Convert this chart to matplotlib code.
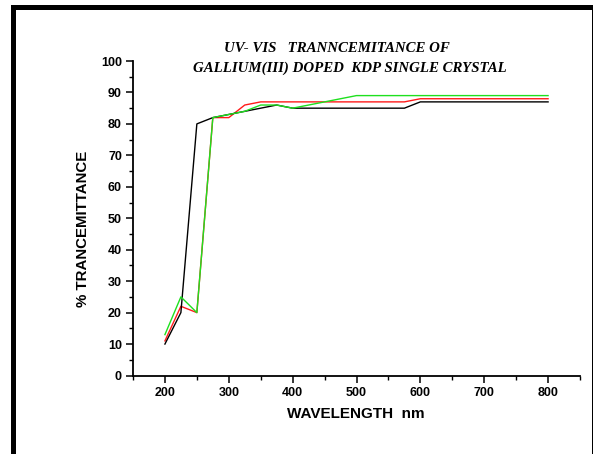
import matplotlib
matplotlib.use("Agg")
import matplotlib.pyplot as plt
from matplotlib.patches import Rectangle
from matplotlib.ticker import MultipleLocator

wavelength = [200, 225, 250, 275, 300, 325, 350, 375, 400, 425, 450, 475, 500, 525, 550, 575, 600, 800]
black_T = [10, 20, 80, 82, 83, 84, 85, 86, 85, 85, 85, 85, 85, 85, 85, 85, 87, 87]
red_T   = [11, 22, 20, 82, 82, 86, 87, 87, 87, 87, 87, 87, 87, 87, 87, 87, 88, 88]
green_T = [13, 25, 20, 82, 83, 84, 86, 86, 85, 86, 87, 88, 89, 89, 89, 89, 89, 89]

W, H = 594, 454
fig = plt.figure(figsize=(W / 100, H / 100), dpi=100)
fig.patch.set_facecolor("white")

ax = fig.add_axes([133 / W, 1 - 375.5 / H, (580 - 133) / W, (375.5 - 61) / H])
ax.plot(wavelength, black_T, color="black", lw=1.0, zorder=3)
ax.plot(wavelength, red_T, color="#ff1a1a", lw=1.0, zorder=2)
ax.plot(wavelength, green_T, color="#1ee01e", lw=1.0, zorder=4)

ax.set_xlim(150, 850)
ax.set_ylim(0, 100)
ax.xaxis.set_major_locator(MultipleLocator(100))
ax.xaxis.set_minor_locator(MultipleLocator(50))
ax.yaxis.set_major_locator(MultipleLocator(10))
ax.yaxis.set_minor_locator(MultipleLocator(5))
ax.set_xticks([200, 300, 400, 500, 600, 700, 800])
for s in ["top", "right"]:
    ax.spines[s].set_visible(False)
for s in ["left", "bottom"]:
    ax.spines[s].set_linewidth(1.3)
ax.tick_params(which="major", direction="out", length=5, width=1.1, labelsize=9, pad=3)
ax.tick_params(which="minor", direction="out", length=3, width=1.0)
for lab in ax.get_xticklabels() + ax.get_yticklabels():
    lab.set_fontfamily("Liberation Sans")
    lab.set_fontweight("bold")

fig.text(83 / W, 1 - 229 / H, "% TRANCEMITTANCE", rotation=90, ha="center", va="center",
         fontsize=10.8, fontweight="bold", family="Liberation Sans")
fig.text(356 / W, 1 - 414 / H, "WAVELENGTH  nm", ha="center", va="center",
         fontsize=11, fontweight="bold", family="Liberation Sans")
fig.text(337 / W, 1 - 48 / H, "UV- VIS   TRANNCEMITANCE OF", ha="center", va="center",
         fontsize=10.7, fontweight="bold", style="italic", family="Liberation Serif")
fig.text(350 / W, 1 - 68 / H, "GALLIUM(III) DOPED  KDP SINGLE CRYSTAL", ha="center", va="center",
         fontsize=10.7, fontweight="bold", style="italic", family="Liberation Serif")

# frame border
fig.add_artist(Rectangle((11 / W, 0), 5 / W, 1 - 5 / H, transform=fig.transFigure,
                         facecolor="black", edgecolor="none"))
fig.add_artist(Rectangle((11 / W, 1 - 10 / H), (593 - 11) / W, 5 / H, transform=fig.transFigure,
                         facecolor="black", edgecolor="none"))
fig.add_artist(Rectangle((592 / W, 0), 1 / W, 1 - 5 / H, transform=fig.transFigure,
                         facecolor="black", edgecolor="none"))

fig.savefig("out.png", dpi=100)
